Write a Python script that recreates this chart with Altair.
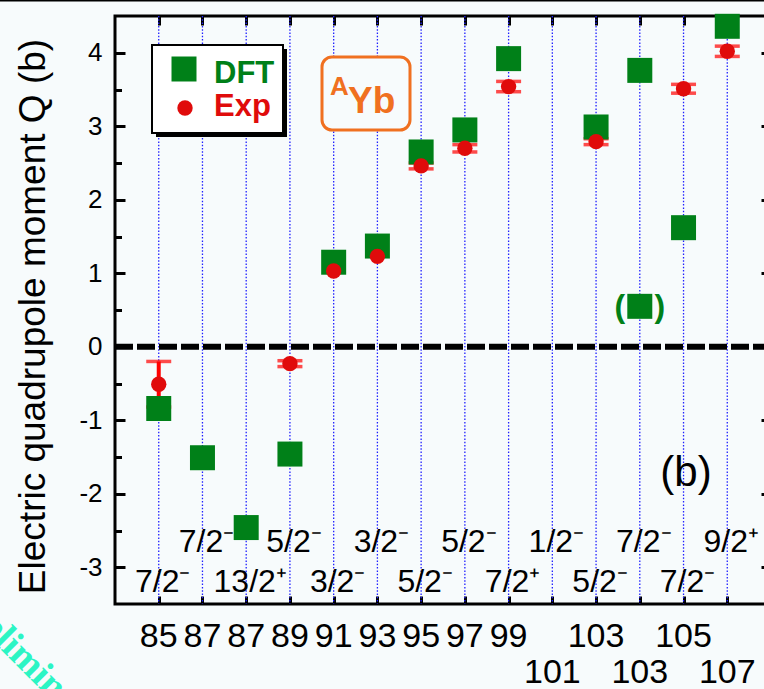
import altair as alt
import pandas as pd

# ---------------- data ----------------
positions = list(range(1, 15))
mass_numbers = ["85", "87", "87", "89", "91", "93", "95", "97", "99", "101", "103", "103", "105", "107"]
spins = ["7/2⁻", "7/2⁻", "13/2⁺", "5/2⁻", "3/2⁻", "3/2⁻", "5/2⁻", "5/2⁻", "7/2⁺", "1/2⁻", "5/2⁻", "7/2⁻", "7/2⁻", "9/2⁺"]
dft_q = [-0.84, -1.51, -2.46, -1.46, 1.15, 1.37, 2.65, 2.95, 3.92, None, 2.99, 3.76, 1.62, 4.36]
dft_tentative_q = [None, None, None, None, None, None, None, None, None, None, None, 0.55, None, None]
exp_q = [-0.51, None, None, -0.23, 1.03, 1.23, 2.46, 2.70, 3.54, None, 2.79, None, 3.51, 4.02]
exp_err = [0.31, None, None, 0.04, 0.0, 0.0, 0.04, 0.05, 0.07, None, 0.04, None, 0.06, 0.07]
y_ticks = [-3, -2, -1, 0, 1, 2, 3, 4]
y_minor = [-2.5, -1.5, -0.5, 0.5, 1.5, 2.5, 3.5]

# ---------------- style ----------------
FONT = "Liberation Sans"
GREEN = "#008018"
RED = "#e00b0b"
ERR = "#ff0000"
ORANGE = "#f07020"
BG = "#f7fbfc"
W, H = 656, 588
XD = [0, 15]
YD = [-3.5, 4.5]


def xs():
    return alt.Scale(domain=XD, nice=False, zero=False)


def ys():
    return alt.Scale(domain=YD, nice=False, zero=False)


def y_pix_to_val(p):
    # pixel (relative to plot top) -> data value, for text rows placed below the frame
    return YD[1] - p * (YD[1] - YD[0]) / H


df_pos = pd.DataFrame({"pos": positions})
dft_df = pd.DataFrame({"pos": positions, "q": dft_q}).dropna()
tent_df = pd.DataFrame({"pos": positions, "q": dft_tentative_q}).dropna()
exp_df = pd.DataFrame({"pos": positions, "q": exp_q, "err": exp_err}).dropna()
exp_df["lo"] = exp_df["q"] - exp_df["err"]
exp_df["hi"] = exp_df["q"] + exp_df["err"]
err_df = exp_df[exp_df["err"] > 0]

spin_df = pd.DataFrame({"pos": positions, "label": spins})
spin_df["y"] = [y_pix_to_val(535.7) if p % 2 == 0 else y_pix_to_val(575.7) for p in positions]
mass_df = pd.DataFrame({"pos": positions, "label": mass_numbers})
mass_df["y"] = [y_pix_to_val(667) if p in (10, 12, 14) else y_pix_to_val(630.7) for p in positions]

NOAX = None

# vertical dotted lines + bottom inward ticks
vlines = alt.Chart(df_pos).mark_rule(color="#2020ff", strokeWidth=1.3, strokeDash=[1.5, 1.8]).encode(
    x=alt.X("pos:Q", scale=xs(), axis=alt.Axis(orient="bottom", offset=-8, tickSize=8, tickWidth=3,
                                               tickColor="black", labels=False, domain=False, grid=False,
                                               title=None, values=positions)),
)

# zero dashed line + y labels axis
zero = alt.Chart(pd.DataFrame({"y": [0]})).mark_rule(color="black", strokeWidth=6, strokeDash=[18, 4]).encode(
    y=alt.Y("y:Q", scale=ys(), axis=alt.Axis(
        orient="left", values=y_ticks, ticks=False, tickSize=0, domain=False, grid=False,
        labelFontSize=26, labelPadding=13, labelColor="black", labelFont=FONT,
        labelExpr="'' + datum.value",
        title="Electric quadrupole moment Q (b)", titleFontSize=37, titleFont=FONT,
        titleFontWeight="normal", titleColor="black", titleX=-82, titleY=300,
        titleAlign="center", titleBaseline="middle", titleAngle=270)),
)

# error bars (carries top ticks and left major ticks)
err_rule = alt.Chart(err_df).mark_rule(color=ERR, strokeWidth=4).encode(
    x=alt.X("pos:Q", scale=xs(), axis=alt.Axis(orient="top", offset=-9, tickSize=9, tickWidth=3,
                                               tickColor="black", labels=False, domain=False, grid=False,
                                               title=None, values=positions)),
    y=alt.Y("lo:Q", scale=ys(), axis=alt.Axis(orient="left", offset=-10, tickSize=10, tickWidth=3,
                                              tickColor="black", labels=False, domain=False, grid=False,
                                              title=None, values=y_ticks)),
    y2="hi:Q",
)
cap_lo = alt.Chart(err_df).mark_tick(color=ERR, size=25, thickness=3.5, orient="horizontal").encode(
    x=alt.X("pos:Q", scale=xs(), axis=NOAX),
    y=alt.Y("lo:Q", scale=ys(), axis=alt.Axis(orient="left", offset=-6.5, tickSize=6.5, tickWidth=3,
                                              tickColor="black", labels=False, domain=False, grid=False,
                                              title=None, values=y_minor)),
)
cap_hi = alt.Chart(err_df).mark_tick(color=ERR, size=25, thickness=3.5, orient="horizontal").encode(
    x=alt.X("pos:Q", scale=xs(), axis=NOAX),
    y=alt.Y("hi:Q", scale=ys(), axis=alt.Axis(orient="right", offset=-10, tickSize=10, tickWidth=3,
                                              tickColor="black", labels=False, domain=False, grid=False,
                                              title=None, values=y_ticks)),
)

squares = alt.Chart(dft_df).mark_square(color=GREEN, size=625, opacity=1).encode(
    x=alt.X("pos:Q", scale=xs(), axis=NOAX),
    y=alt.Y("q:Q", scale=ys(), axis=NOAX),
)
tent = alt.Chart(tent_df).mark_square(color=GREEN, size=625, opacity=1).encode(
    x=alt.X("pos:Q", scale=xs(), axis=NOAX),
    y=alt.Y("q:Q", scale=ys(), axis=NOAX),
)
paren_l = alt.Chart(tent_df).mark_text(text="(", color=GREEN, fontSize=32, fontWeight="bold", font=FONT,
                                        dx=-20, dy=1, baseline="middle").encode(
    x=alt.X("pos:Q", scale=xs(), axis=NOAX), y=alt.Y("q:Q", scale=ys(), axis=NOAX))
paren_r = alt.Chart(tent_df).mark_text(text=")", color=GREEN, fontSize=32, fontWeight="bold", font=FONT,
                                        dx=20, dy=1, baseline="middle").encode(
    x=alt.X("pos:Q", scale=xs(), axis=NOAX), y=alt.Y("q:Q", scale=ys(), axis=NOAX))

circles = alt.Chart(exp_df).mark_circle(color=RED, size=236, opacity=1).encode(
    x=alt.X("pos:Q", scale=xs(), axis=NOAX),
    y=alt.Y("q:Q", scale=ys(), axis=NOAX),
)

spin_text = alt.Chart(spin_df).mark_text(fontSize=32, font=FONT, color="black", align="center",
                                          baseline="alphabetic", dx=4).encode(
    x=alt.X("pos:Q", scale=xs(), axis=NOAX),
    y=alt.Y("y:Q", scale=ys(), axis=NOAX),
    text="label:N",
)
mass_text = alt.Chart(mass_df).mark_text(fontSize=34, font=FONT, color="black", align="center",
                                          baseline="alphabetic").encode(
    x=alt.X("pos:Q", scale=xs(), axis=NOAX),
    y=alt.Y("y:Q", scale=ys(), axis=NOAX),
    text="label:N",
)

one = pd.DataFrame({"a": [0]})
panel_b = alt.Chart(one).mark_text(text="(b)", fontSize=42, font=FONT, color="black", align="center",
                                   baseline="alphabetic").encode(x=alt.value(571), y=alt.value(470))

# thin border line at the very top of the picture
top_border = alt.Chart(one).mark_rule(color="black", strokeWidth=1.5).encode(
    x=alt.value(-115), x2=alt.value(W), y=alt.value(-15.3))

# legend box
leg_shadow = alt.Chart(one).mark_rect(color="black").encode(
    x=alt.value(41), x2=alt.value(172), y=alt.value(33), y2=alt.value(121))
leg_box = alt.Chart(one).mark_rect(fill="white", stroke="black", strokeWidth=2).encode(
    x=alt.value(37), x2=alt.value(168), y=alt.value(29), y2=alt.value(117))
leg_sq = alt.Chart(one).mark_square(color=GREEN, size=625, opacity=1).encode(x=alt.value(69), y=alt.value(53))
leg_ci = alt.Chart(one).mark_circle(color=RED, size=236, opacity=1).encode(x=alt.value(70), y=alt.value(92))
leg_dft = alt.Chart(one).mark_text(text="DFT", fontSize=31, fontWeight="bold", font=FONT, color=GREEN,
                                   align="left", baseline="alphabetic").encode(x=alt.value(99), y=alt.value(67))
leg_exp = alt.Chart(one).mark_text(text="Exp", fontSize=31, fontWeight="bold", font=FONT, color=RED,
                                   align="left", baseline="alphabetic").encode(x=alt.value(99), y=alt.value(100))

# AYb box
ayb_box = alt.Chart(one).mark_rect(fill=BG, stroke=ORANGE, strokeWidth=3, cornerRadius=10).encode(
    x=alt.value(207), x2=alt.value(295), y=alt.value(41), y2=alt.value(114))
ayb_a = alt.Chart(one).mark_text(text="A", fontSize=26, fontWeight="bold", font=FONT, color=ORANGE,
                                 align="left", baseline="alphabetic").encode(x=alt.value(215), y=alt.value(79))
ayb_yb = alt.Chart(one).mark_text(text="Yb", fontSize=37, fontWeight="bold", font=FONT, color=ORANGE,
                                  align="left", baseline="alphabetic").encode(x=alt.value(233), y=alt.value(97))

watermark = alt.Chart(one).mark_text(text="Preliminary", fontSize=38, font="Liberation Serif",
                                     fontWeight="bold", color="#2cf5c4", align="left",
                                     baseline="alphabetic", angle=45).encode(
    x=alt.value(-162), y=alt.value(586))

chart = alt.layer(
    vlines, zero, err_rule, cap_lo, cap_hi, squares, tent, paren_l, paren_r, circles,
    spin_text, mass_text, panel_b, top_border,
    leg_shadow, leg_box, leg_sq, leg_ci, leg_dft, leg_exp,
    ayb_box, ayb_a, ayb_yb, watermark,
).resolve_axis(x="independent", y="independent").properties(
    width=W, height=H,
    autosize=alt.AutoSizeParams(type="none"),
    padding={"left": 115, "top": 16, "right": -7, "bottom": 85},
    background=BG,
).configure(
    font=FONT,
    view=alt.ViewConfig(stroke="black", strokeWidth=3),
)

chart.save("out.html", embed_options={"renderer": "svg", "actions": False})
